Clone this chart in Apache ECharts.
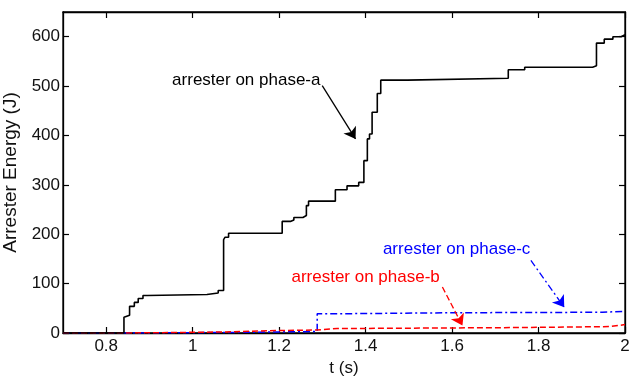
<!DOCTYPE html>
<html>
<head>
<meta charset="utf-8">
<script src="https://cdn.jsdelivr.net/npm/echarts@6/dist/echarts.min.js"></script>
<style>html,body{margin:0;padding:0;background:#fff}#c{width:631px;height:376px}</style>
</head>
<body>
<div id="c"></div>
<script>
// Step times (s) and energy values (J): value holds from each time onward
const phaseA_t = [0.7, 0.841, 0.845, 0.854, 0.865, 0.874, 0.885, 0.895, 1.033, 1.059, 1.0715, 1.075, 1.083, 1.207, 1.226, 1.234, 1.255, 1.263, 1.268, 1.330, 1.357, 1.384, 1.396, 1.404, 1.409, 1.415, 1.427, 1.435, 1.497, 1.730, 1.768, 1.925, 1.934, 1.952, 1.972, 1.991, 2.0];
const phaseA_v = [0, 32, 36, 54, 62, 70, 76, 78, 81, 86, 189, 194, 202, 226, 229, 234, 238, 258, 267, 290, 298, 305, 349, 393, 403, 447, 485, 512, 516, 533, 538, 541, 587, 595, 600, 604, 604];
const phaseB_t = [0.7, 0.843, 1.07, 1.2, 1.288, 1.334, 1.751, 1.964, 2.0];
const phaseB_v = [0, 2, 5, 6, 9, 11, 13, 17, 17];
const phaseC_t = [0.7, 0.843, 1.08, 1.288, 1.342, 1.604, 1.948, 2.0];
const phaseC_v = [0, 1, 3, 39, 41, 42, 44, 44];

const xTicks = [0.8, 1, 1.2, 1.4, 1.6, 1.8, 2];
const yTicks = [0, 100, 200, 300, 400, 500, 600];

// Annotations: label text, label position [t, E], arrow from [t, E] to [t, E]
const labelA = ['arrester on phase-a', [1.124, 511], [1.2996, 501], [1.3767, 393]];
const labelB = ['arrester on phase-b', [1.40, 113], [1.5776, 93], [1.624, 15]];
const labelC = ['arrester on phase-c', [1.6105, 170], [1.7823, 147], [1.8595, 52]];

const FONT = 'Liberation Sans, Arial, sans-serif';
const zip = (t, v) => t.map((x, i) => [x, v[i]]);

function annot(lab, color, type) {
  return {
    markPoint: {
      symbol: 'circle', symbolSize: 1, silent: true, animation: false,
      itemStyle: { color: 'rgba(0,0,0,0)' },
      label: { show: true, position: 'inside', formatter: lab[0], color: color, fontSize: 17, fontFamily: FONT },
      data: [{ coord: lab[1] }]
    },
    markLine: {
      silent: true, animation: false, symbol: ['none', 'arrow'], symbolSize: 11,
      label: { show: false },
      lineStyle: { color: color, width: 1.3, type: type },
      data: [[{ coord: lab[2] }, { coord: lab[3] }]]
    }
  };
}

function tick(vals) {
  return { show: true, inside: true, length: 6, lineStyle: { color: '#000', width: 1.2 }, customValues: vals };
}
function line() {
  return { show: true, onZero: false, lineStyle: { color: '#000', width: 1.3 } };
}

const chart = echarts.init(document.getElementById('c'));
chart.setOption({
  animation: false,
  grid: { show: true, borderColor: '#000', borderWidth: 1.3, backgroundColor: 'rgba(0,0,0,0)',
    left: 63, right: 6, top: 12, bottom: 43, outerBoundsMode: 'none' },
  xAxis: [
    {
      type: 'value', min: 0.7, max: 2, position: 'bottom',
      name: 't (s)', nameLocation: 'middle', nameGap: 24,
      nameTextStyle: { color: '#111', fontSize: 17, fontFamily: FONT },
      axisLine: line(), splitLine: { show: false },
      axisTick: tick(xTicks),
      axisLabel: { color: '#111', fontSize: 17, fontFamily: FONT, margin: 5, customValues: xTicks }
    },
    {
      type: 'value', min: 0.7, max: 2, position: 'top',
      axisLine: line(), splitLine: { show: false },
      axisTick: tick(xTicks),
      axisLabel: { show: false, customValues: xTicks }
    }
  ],
  yAxis: [
    {
      type: 'value', min: 0, max: 650, position: 'left', interval: 100,
      name: 'Arrester Energy (J)', nameLocation: 'middle', nameGap: 37,
      nameTextStyle: { color: '#111', fontSize: 19, fontFamily: FONT },
      axisLine: line(), splitLine: { show: false },
      axisTick: tick(yTicks),
      axisLabel: { color: '#111', fontSize: 17, fontFamily: FONT, margin: 3, customValues: yTicks }
    },
    {
      type: 'value', min: 0, max: 650, position: 'right', interval: 100,
      axisLine: line(), splitLine: { show: false },
      axisTick: tick(yTicks),
      axisLabel: { show: false, customValues: yTicks }
    }
  ],
  series: [
    Object.assign({
      name: 'phase-b', type: 'line', step: 'end', symbol: 'none', z: 3,
      lineStyle: { color: '#ff0000', width: 1.5, type: [6, 3] },
      data: zip(phaseB_t, phaseB_v)
    }, annot(labelB, '#ff0000', [6, 3])),
    Object.assign({
      name: 'phase-c', type: 'line', step: 'end', symbol: 'none', z: 2,
      lineStyle: { color: '#0000ff', width: 1.5, type: [7, 3, 2, 3] },
      data: zip(phaseC_t, phaseC_v)
    }, annot(labelC, '#0000ff', [7, 3, 2, 3])),
    Object.assign({
      name: 'phase-a', type: 'line', step: 'end', symbol: 'none', z: 4,
      lineStyle: { color: '#000', width: 1.6 },
      data: zip(phaseA_t, phaseA_v)
    }, annot(labelA, '#000', 'solid'))
  ]
});
</script>
</body>
</html>
